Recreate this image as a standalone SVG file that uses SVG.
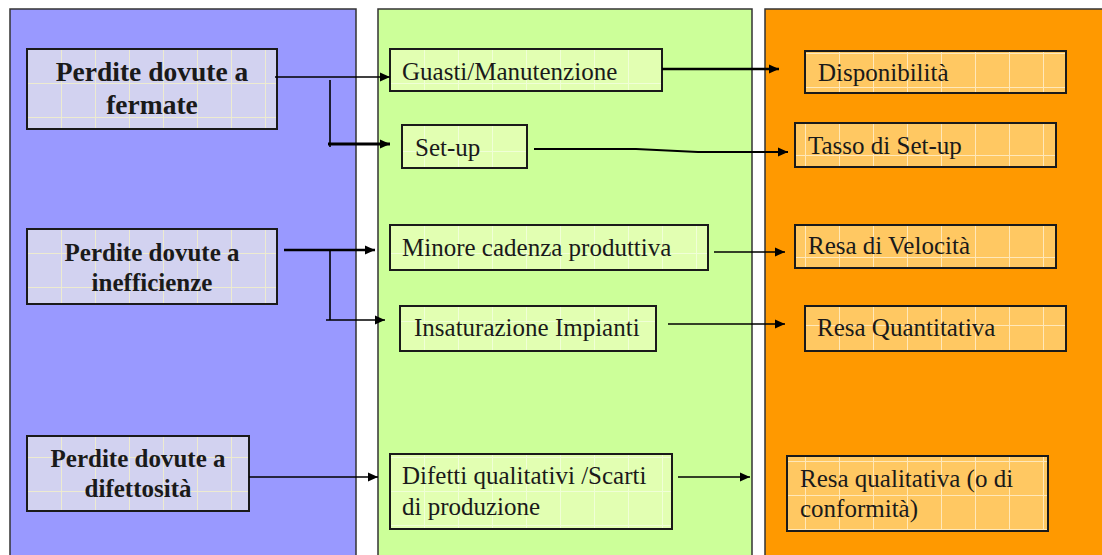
<svg xmlns="http://www.w3.org/2000/svg" width="1102" height="555" viewBox="0 0 1102 555">
  <defs>
    <style>
      .col { stroke: #333333; stroke-width: 1.5; }
      .box { stroke: #1a1a1a; stroke-width: 2; }
      .lbl { font-family: "Liberation Serif", "Times New Roman", serif; font-size: 25px; fill: #1a1a1a; }
      .bold { font-weight: bold; text-anchor: middle; }
      .conn { fill: none; stroke: #000000; stroke-width: 1.6; }
    </style>
    <!-- faint paper grid used inside the boxes -->
    <pattern id="gridLav" patternUnits="userSpaceOnUse" width="34" height="34" x="27" y="15">
      <rect width="34" height="34" fill="#d2d2f0"/>
      <path d="M0.5 0V34M0 0.5H34" stroke="#f4f2c8" stroke-width="1" opacity="0.8"/>
    </pattern>
    <pattern id="gridGreen" patternUnits="userSpaceOnUse" width="34" height="34" x="390" y="15">
      <rect width="34" height="34" fill="#e2ffb2"/>
      <path d="M0.5 0V34M0 0.5H34" stroke="#f4ffe0" stroke-width="1" opacity="0.8"/>
    </pattern>
    <pattern id="gridOrange" patternUnits="userSpaceOnUse" width="34" height="34" x="805" y="19">
      <rect width="34" height="34" fill="#ffc862"/>
      <path d="M0.5 0V34M0 0.5H34" stroke="#fff0d0" stroke-width="1" opacity="0.8"/>
    </pattern>
    <marker id="arrow" markerUnits="userSpaceOnUse" markerWidth="11" markerHeight="10" refX="10" refY="5" orient="auto">
      <path d="M0 0.5 L10 5 L0 9.5 Z" fill="#000000"/>
    </marker>
  </defs>

  <rect width="1102" height="555" fill="#ffffff"/>

  <!-- column backgrounds -->
  <g id="columns">
    <rect class="col" x="10" y="9" width="346" height="560" fill="#9999ff"/>
    <rect class="col" x="378" y="9" width="374" height="560" fill="#ccff99"/>
    <rect class="col" x="765" y="9" width="350" height="560" fill="#ff9900"/>
  </g>

  <!-- loss categories -->
  <g id="fermate">
    <rect class="box" x="27" y="49" width="250" height="80" fill="url(#gridLav)"/>
    <text class="lbl bold" x="152" y="81" style="font-size:27.5px">Perdite dovute a</text>
    <text class="lbl bold" x="152" y="114" style="font-size:27.5px">fermate</text>
  </g>
  <g id="inefficienze">
    <rect class="box" x="27" y="229" width="250" height="75" fill="url(#gridLav)"/>
    <text class="lbl bold" x="152" y="261">Perdite dovute a</text>
    <text class="lbl bold" x="152" y="291">inefficienze</text>
  </g>
  <g id="difettosita">
    <rect class="box" x="27" y="436" width="222" height="75" fill="url(#gridLav)"/>
    <text class="lbl bold" x="138" y="467">Perdite dovute a</text>
    <text class="lbl bold" x="138" y="497">difettosità</text>
  </g>

  <!-- causes -->
  <g id="guasti">
    <rect class="box" x="390" y="49" width="272" height="42" fill="url(#gridGreen)"/>
    <text class="lbl" x="402" y="80">Guasti/Manutenzione</text>
  </g>
  <g id="setup">
    <rect class="box" x="402" y="125" width="125" height="43" fill="url(#gridGreen)"/>
    <text class="lbl" x="415" y="156">Set-up</text>
  </g>
  <g id="cadenza">
    <rect class="box" x="390" y="225" width="318" height="45" fill="url(#gridGreen)"/>
    <text class="lbl" x="402" y="256">Minore cadenza produttiva</text>
  </g>
  <g id="insaturazione">
    <rect class="box" x="400" y="306" width="256" height="45" fill="url(#gridGreen)"/>
    <text class="lbl" x="414" y="336">Insaturazione Impianti</text>
  </g>
  <g id="difetti">
    <rect class="box" x="390" y="454" width="282" height="75" fill="url(#gridGreen)"/>
    <text class="lbl" x="402" y="484">Difetti qualitativi /Scarti</text>
    <text class="lbl" x="402" y="515">di produzione</text>
  </g>

  <!-- indicators -->
  <g id="disponibilita">
    <rect class="box" x="805" y="51" width="261" height="42" fill="url(#gridOrange)"/>
    <text class="lbl" x="818" y="81">Disponibilità</text>
  </g>
  <g id="tasso-setup">
    <rect class="box" x="795" y="123" width="261" height="44" fill="url(#gridOrange)"/>
    <text class="lbl" x="808" y="154">Tasso di Set-up</text>
  </g>
  <g id="resa-velocita">
    <rect class="box" x="795" y="225" width="261" height="43" fill="url(#gridOrange)"/>
    <text class="lbl" x="808" y="254">Resa di Velocità</text>
  </g>
  <g id="resa-quantitativa">
    <rect class="box" x="805" y="306" width="261" height="45" fill="url(#gridOrange)"/>
    <text class="lbl" x="817" y="336">Resa Quantitativa</text>
  </g>
  <g id="resa-qualitativa">
    <rect class="box" x="787" y="456" width="261" height="75" fill="url(#gridOrange)"/>
    <text class="lbl" x="800" y="487">Resa qualitativa (o di</text>
    <text class="lbl" x="800" y="517">conformità)</text>
  </g>

  <!-- connectors -->
  <g id="connectors">
    <path class="conn" d="M275 77 H390" marker-end="url(#arrow)"/>
    <path class="conn" d="M330 80 V147"/>
    <path class="conn" d="M328 144 H390" style="stroke-width:3" marker-end="url(#arrow)"/>
    <path class="conn" d="M662 69 H779" style="stroke-width:2.5" marker-end="url(#arrow)"/>
    <path class="conn" d="M534 149 H636 L698 152 H788" style="stroke-width:2" marker-end="url(#arrow)"/>
    <path class="conn" d="M284 250 H375" style="stroke-width:2.5" marker-end="url(#arrow)"/>
    <path class="conn" d="M330 250 V320"/>
    <path class="conn" d="M326 320 H385" marker-end="url(#arrow)"/>
    <path class="conn" d="M714 252 H785" marker-end="url(#arrow)"/>
    <path class="conn" d="M668 324 H785" marker-end="url(#arrow)"/>
    <path class="conn" d="M249 477 H378" marker-end="url(#arrow)"/>
    <path class="conn" d="M678 477 H750" marker-end="url(#arrow)"/>
  </g>
</svg>
